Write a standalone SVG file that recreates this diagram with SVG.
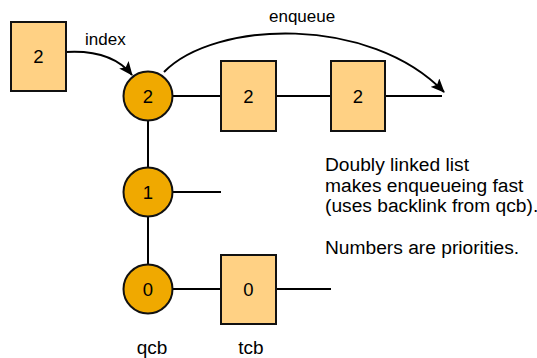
<svg xmlns="http://www.w3.org/2000/svg" width="537" height="358" viewBox="0 0 537 358">
  <style>
    .tcb { fill: #FFD184; stroke: #111; stroke-width: 2; }
    .qcb { fill: #F0A900; stroke: #111; stroke-width: 2; }
    .num { font-family: "Liberation Sans", Arial, sans-serif; font-size: 18.5px; fill: #000; text-anchor: middle; }
    .cap { font-family: "Liberation Sans", Arial, sans-serif; font-size: 19px; fill: #000; text-anchor: middle; }
    .lbl { font-family: "Liberation Sans", Arial, sans-serif; font-size: 17px; fill: #000; }
    .note { font-family: "Liberation Sans", Arial, sans-serif; font-size: 19.2px; fill: #000; }
    .link { stroke: #000; stroke-width: 2; fill: none; }
  </style>
  <defs>
    <marker id="arrow" markerUnits="userSpaceOnUse" markerWidth="14" markerHeight="12" refX="13" refY="6" orient="auto">
      <path d="M0,0 L14,6 L0,12 L3,6 z" fill="#000"/>
    </marker>
  </defs>
  <rect width="537" height="358" fill="#fff"/>

  <!-- links between control blocks -->
  <g id="connectors">
    <line class="link" x1="173" y1="96" x2="221" y2="96"/>
    <line class="link" x1="276" y1="96" x2="331" y2="96"/>
    <line class="link" x1="385" y1="96" x2="442" y2="96"/>
    <line class="link" x1="148" y1="120" x2="148" y2="168"/>
    <line class="link" x1="148" y1="217" x2="148" y2="264"/>
    <line class="link" x1="173" y1="192" x2="221" y2="192"/>
    <line class="link" x1="173" y1="289" x2="221" y2="289"/>
    <line class="link" x1="276" y1="289" x2="331" y2="289"/>
    <path class="link" d="M66,52 C100,50 120,60 132,75" marker-end="url(#arrow)"/>
    <path class="link" d="M164,72 C215,20 370,15 444,92" marker-end="url(#arrow)"/>
    <text class="lbl" x="85" y="45">index</text>
    <text class="lbl" x="269" y="22">enqueue</text>
  </g>

  <!-- new task control block -->
  <g id="new-tcb">
    <rect class="tcb" x="11" y="22" width="55" height="69"/>
    <text class="num" x="38.5" y="63">2</text>
  </g>

  <!-- queue control blocks, one per priority -->
  <g id="qcb-2">
    <circle class="qcb" cx="148" cy="96" r="24.5"/>
    <text class="num" x="148" y="102.5">2</text>
  </g>
  <g id="qcb-1">
    <circle class="qcb" cx="148" cy="192" r="24.5"/>
    <text class="num" x="148" y="198.5">1</text>
  </g>
  <g id="qcb-0">
    <circle class="qcb" cx="148" cy="289" r="24.5"/>
    <text class="num" x="148" y="295.5">0</text>
  </g>

  <!-- task control blocks -->
  <g id="tcb-2a">
    <rect class="tcb" x="221" y="61" width="55" height="70"/>
    <text class="num" x="248.5" y="102.5">2</text>
  </g>
  <g id="tcb-2b">
    <rect class="tcb" x="331" y="61" width="54" height="70"/>
    <text class="num" x="358" y="102.5">2</text>
  </g>
  <g id="tcb-0">
    <rect class="tcb" x="221" y="255" width="55" height="69"/>
    <text class="num" x="248.5" y="295.5">0</text>
  </g>

  <!-- column captions -->
  <g id="captions">
    <text class="cap" x="152" y="354">qcb</text>
    <text class="cap" x="251" y="354">tcb</text>
  </g>

  <!-- explanatory note -->
  <g id="note">
    <text class="note" x="325" y="170.5">Doubly linked list</text>
    <text class="note" x="325" y="191.5">makes enqueueing fast</text>
    <text class="note" x="325" y="212">(uses backlink from qcb).</text>
    <text class="note" x="325" y="254">Numbers are priorities.</text>
  </g>
</svg>
